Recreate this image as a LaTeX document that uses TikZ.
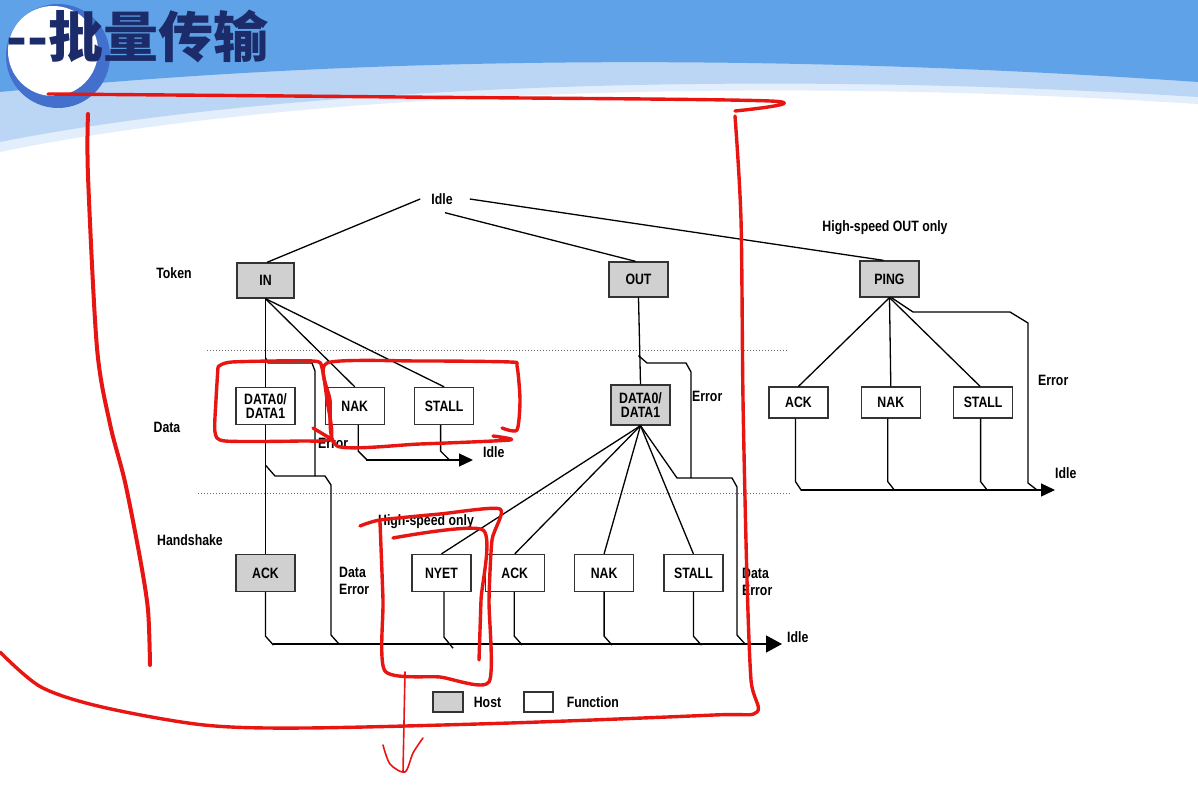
\documentclass[tikz,border=0pt]{standalone}
\usepackage{fontspec}
\setmainfont{Liberation Sans}[FakeStretch=0.82]
\newfontfamily\cjkfont{Noto Sans CJK SC}
\usetikzlibrary{positioning, arrows.meta}

\definecolor{hostgray}{RGB}{208,208,208}
\definecolor{bandblue}{RGB}{96,162,232}
\definecolor{lightblue}{RGB}{186,214,244}
\definecolor{paleblue}{RGB}{226,238,251}
\definecolor{ringblue}{RGB}{66,112,204}
\definecolor{titlenavy}{RGB}{28,44,106}
\definecolor{penred}{RGB}{232,22,18}

\begin{document}
\begin{tikzpicture}[x=1pt, y=-1pt,
every node/.style = {font=\fontsize{15}{17}\selectfont\bfseries, inner sep=2pt},
        box/.style = {rectangle, draw=black!80, line width=1.3pt, fill=#1,
                     minimum width=59pt, minimum height=37pt},
       link/.style = {line width=1.3pt},
        bus/.style = {line width=1.3pt, -{Triangle[length=14pt,width=13pt]}},
        sep/.style = {dotted, line width=1pt, black!60},
        pen/.style = {penred, line width=3.4pt, line cap=round, line join=round}
                        ]
\useasboundingbox (0,0) rectangle (1198,786);
\fill[white] (0,0) rectangle (1198,786);
% slide header
\fill[paleblue] (0,0) -- (1198,0) -- (1198,104) .. controls (700,72) and (250,100) .. (0,152) -- cycle;
\fill[lightblue] (0,0) -- (1198,0) -- (1198,97) .. controls (700,66) and (250,92) .. (0,142) -- cycle;
\fill[bandblue] (0,0) -- (1198,0) -- (1198,82) .. controls (700,48) and (300,62) .. (0,92) -- cycle;
\fill[ringblue] (58,56) circle (52);
\fill[white] (53,51) circle (45);
\node (title) [font=\cjkfont\bfseries\fontsize{55}{55}\selectfont, text=titlenavy,
               anchor=west, inner sep=0pt] at (6,36) {--批量传输};

% row labels
\node (idle0) at (442,199) {Idle};
\node (token) at (174,273) {Token};
\node (data) at (167,427) {Data};
\node (hshake) at (190,540) {Handshake};

% token phase
\node (in) [box=hostgray, minimum width=57pt, minimum height=35pt] at (265.5,280.5) {IN};
\node (out) [box=hostgray, minimum height=35pt] at (638.5,279.5) {OUT};
\node (ping) [box=hostgray, minimum height=36pt] at (889.5,279) {PING};
\node (hsout) at (885,228) {High-speed OUT only};

% data phase
\node (d0in) [box=white, align=center, font=\fontsize{15}{13.5}\selectfont\bfseries]
      at (265.5,406) {DATA0/\\DATA1};
\node (nakin) [box=white, right=29pt of d0in] {NAK};
\node (stallin) [box=white, right=29pt of nakin] {STALL};
\node (d0out) [box=hostgray, minimum height=40pt, align=center,
               font=\fontsize{15}{13.5}\selectfont\bfseries] at (640.5,405) {DATA0/\\DATA1};
\node (pack) [box=white, minimum height=31pt] at (798.5,402.5) {ACK};
\node (pnak) [box=white, minimum height=31pt, right=32pt of pack] {NAK};
\node (pstall) [box=white, minimum height=31pt, right=32pt of pnak] {STALL};
\node (errin) [anchor=west] at (316,443) {Error};
\node (idlein) [anchor=west] at (481,452) {Idle};
\node (errout) [anchor=west] at (690,396) {Error};
\node (errping) [anchor=west] at (1036,380) {Error};
\node (idleping) [anchor=west] at (1053,473) {Idle};

% handshake phase
\node (hack) [box=hostgray] at (265.5,573) {ACK};
\node (nyet) [box=white] at (441.5,573) {NYET};
\node (hsack) [box=white, right=13pt of nyet] {ACK};
\node (hsnak) [box=white, right=29pt of hsack] {NAK};
\node (hsstall) [box=white, right=29pt of hsnak] {STALL};
\node (hsonly) at (426,522) {High-speed only};
\node (derr1) [anchor=west, align=left] at (337,581) {Data\\Error};
\node (derr2) [anchor=west, align=left] at (740,582) {Data\\Error};
\node (idlehs) [anchor=west] at (785,637) {Idle};

% key
\node (hostkey) [box=hostgray, minimum width=30pt, minimum height=20pt] at (448,702) {};
\node (hostlbl) [right=8pt of hostkey] {Host};
\node (funckey) [box=white, minimum width=29pt, minimum height=20pt] at (538.5,702) {};
\node (funclbl) [right=11pt of funckey] {Function};

\coordinate (dbus0) at (366,460);
\coordinate (dbus1) at (473,460);
\coordinate (pbus0) at (801,490);
\coordinate (pbus1) at (1055,490);
\coordinate (hbus0) at (273,644);
\coordinate (hbus1) at (782,644);

% phase separators
\draw[sep] (207,350) -- (787,350);
\draw[sep] (198,493) -- (790,493);

% from idle
\draw[link] ([xshift=-9pt]idle0.west) -- ([xshift=1.5pt]in.north);
\draw[link] ([shift={(3pt,-6pt)}]idle0.south) -- ([xshift=-3pt]out.north);
\draw[link] ([xshift=15pt]idle0.east) -- ([xshift=-6pt]ping.north);

% IN transaction
\draw[link] (in.south) -- (d0in.north);
\draw[link] (in.south) -- (nakin.north);
\draw[link] (in.south) -- (stallin.north);
\draw[link] ([yshift=-59pt]in.south) -- (268,363) -- (312,363) -- (315,371) -- (315,476);
\draw[link] (d0in.south) -- (hack.north);
\draw[link] ([yshift=-40pt]d0in.south) -- (275,476) -- (325,476) -- (331,485) -- (331,635) -- (339,644);
\draw[link] ([xshift=3.5pt]nakin.south) -- ++(0,26) -- ++(9,9);
\draw[link] ([xshift=-3.5pt]stallin.south) -- ++(0,26) -- ++(9,9);
\draw[bus] (dbus0) -- (dbus1);

% OUT transaction
\draw[link] (out.south) -- (d0out.north);
\draw[link] ([yshift=-58pt]out.south) -- (647,363) -- (686,363) -- (691,372) -- (691,478);
\draw[link] (d0out.south) -- (nyet.north);
\draw[link] (d0out.south) -- (hsack.north);
\draw[link] (d0out.south) -- (hsnak.north);
\draw[link] (d0out.south) -- (hsstall.north);
\draw[link] (d0out.south) -- (677,478) -- (732,478) -- (737,487) -- (737,635) -- (745,644);

% handshakes to idle
\draw[link] (hack.south) -- ++(0,44) -- ++(8,9);
\draw[link] ([xshift=2.5pt]nyet.south) -- ++(0,45) -- ++(9,11);
\draw[link] ([xshift=-0.5pt]hsack.south) -- ++(0,44) -- ++(8,9);
\draw[link] (hsnak.south) -- ++(0,44) -- ++(8,9);
\draw[link] (hsstall.south) -- ++(0,44) -- ++(8,9);
\draw[bus, -{Triangle[length=16pt,width=17pt]}] (hbus0) -- (hbus1);

% PING transaction
\draw[link] (ping.south) -- (pack.north);
\draw[link] (ping.south) -- (pnak.north);
\draw[link] (ping.south) -- ([xshift=-3pt]pstall.north);
\draw[link] ([xshift=2pt]ping.south) -- (913,312) -- (1010,312) -- (1028,323) -- (1028,483) -- (1037,490);
\draw[link] ([xshift=-3pt]pack.south) -- ++(0,63) -- ++(6,9);
\draw[link] ([xshift=-3pt]pnak.south) -- ++(0,63) -- ++(7,9);
\draw[link] ([xshift=-2.5pt]pstall.south) -- ++(0,63) -- ++(7,9);
\draw[bus] (pbus0) -- (pbus1);

% red pen marks
\draw[pen] plot[smooth, tension=0.5] coordinates {(48,94) (400,97) (770,101) (735,111)};
\draw[pen] plot[smooth, tension=0.5] coordinates {(735,116) (741,220) (743,400) (747,580) (751,680)
      (757,712) (714,715) (510,723) (306,728) (204,725) (102,707) (41,687) (0,652)};
\draw[pen, line width=4pt] plot[smooth, tension=0.5] coordinates {(88,114) (88,176) (97,348) (110,424)
      (125,482) (140,558) (148,610) (150,665)};
\draw[pen] plot[smooth, tension=0.4] coordinates {(218,367) (232,362) (313,361) (322,368) (327,400)
      (331,438) (300,441) (225,441) (215,432) (216,400) (218,367)};
\draw[pen] (313,428) -- (333,440);
\draw[pen] plot[smooth, tension=0.4] coordinates {(502,428) (517,430) (520,400) (517,366) (510,362)
      (420,361) (327,363) (330,400) (337,446) (420,444) (510,440) (493,436)};
\draw[pen] plot[smooth, tension=0.4] coordinates {(360,526) (380,520) (440,514) (500,509) (492,540)
      (489,600) (489,682) (440,677) (385,671) (383,600) (380,522)};
\draw[pen] plot[smooth, tension=0.4] coordinates {(393,538) (483,530) (481,600) (479,660)};
\draw[pen, line width=1.6pt] (405,672) -- (403,772);
\draw[pen, line width=1.6pt] plot[smooth, tension=0.5] coordinates {(383,745) (390,764) (405,772) (413,753) (423,738)};
\end{tikzpicture}
\end{document}
